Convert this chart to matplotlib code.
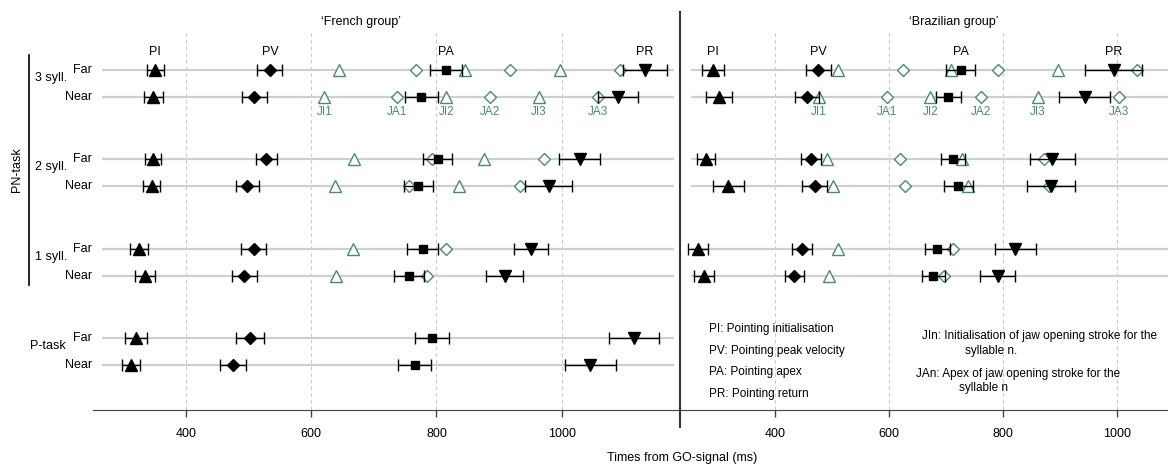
"""Timing of pointing and jaw events, French vs Brazilian groups."""

import matplotlib

matplotlib.use("Agg")
import matplotlib.pyplot as plt
from matplotlib.lines import Line2D

plt.rcParams["font.family"] = ["Liberation Sans", "DejaVu Sans"]

WIDTH, HEIGHT = 1168, 465
GREEN = "#4a8c6f"
GRID_TICKS = [400, 600, 800, 1000]

GROUPS = ["3 syll.", "2 syll.", "1 syll.", "P-task"]
CONDITIONS = ["Far", "Near"]
POINT_EVENTS = ["PI", "PV", "PA", "PR"]

# rows: 3 syll Far, 3 syll Near, 2 syll Far, 2 syll Near, 1 syll Far, 1 syll Near, P-task Far, P-task Near
FR_PI = [351, 348, 347, 345, 325, 334, 320, 312]
FR_PI_ERR = [14, 15, 13, 14, 15, 16, 17, 15]
FR_PV = [534, 509, 528, 498, 508, 493, 502, 475]
FR_PV_ERR = [20, 20, 17, 18, 20, 20, 22, 20]
FR_PA = [815, 776, 802, 771, 778, 756, 793, 765]
FR_PA_ERR = [25, 27, 23, 23, 25, 24, 27, 27]
FR_PR = [1133, 1090, 1029, 979, 951, 909, 1116, 1046]
FR_PR_ERR = [35, 32, 33, 37, 27, 30, 40, 41]
FR_JI = [[645, 845, 997], [621, 816, 964], [669, 876], [638, 836], [667], [640], [], []]
FR_JA = [[768, 918, 1093], [737, 886, 1058], [793, 972], [756, 933], [816], [785], [], []]

# Brazilian group has no P-task rows
BR_PI = [291, 301, 279, 318, 265, 275]
BR_PI_ERR = [19, 23, 16, 27, 17, 18]
BR_PV = [476, 456, 463, 470, 447, 434]
BR_PV_ERR = [22, 21, 17, 22, 18, 17]
BR_PA = [726, 704, 713, 722, 685, 678]
BR_PA_ERR = [26, 22, 21, 26, 22, 20]
BR_PR = [995, 944, 887, 885, 822, 791]
BR_PR_ERR = [50, 45, 39, 42, 36, 31]
BR_JI = [[510, 709, 896], [477, 673, 862], [491, 729], [501, 738], [511], [495]]
BR_JA = [[625, 792, 1036], [596, 761, 1004], [619, 873], [628, 881], [713], [697]]

LEGEND_LEFT = [
    "PI: Pointing initialisation",
    "PV: Pointing peak velocity",
    "PA: Pointing apex",
    "PR: Pointing return",
]


def row_y(i):
    # pixel row of each condition line (axes are set up in pixel units)
    group, cond = divmod(i, 2)
    return 70 + group * 89.3 + cond * 27


def fxy(x, y):
    return x / WIDTH, 1 - y / HEIGHT


def draw_panel(ax, points, errors, ji, ja, line_span):
    ax.set_ylim(410, 12)
    ax.vlines(GRID_TICKS, 33, 410, colors="#c8c8c8", linestyles=(0, (3, 3)),
              linewidth=0.8, zorder=0)
    n_rows = len(points[0])
    for i in range(n_rows):
        y = row_y(i)
        ax.hlines(y, *line_span, colors="#cfcfcf", linewidth=1.6, zorder=1)
        ax.plot(ji[i], [y] * len(ji[i]), "^", ms=9, mfc="white", mec=GREEN,
                mew=1.0, zorder=2)
        ax.plot(ja[i], [y] * len(ja[i]), "D", ms=6, mfc="white", mec=GREEN,
                mew=1.0, zorder=2)
        for values, errs, marker, size in zip(points, errors, ["^", "D", "s", "v"],
                                              [8, 6.5, 6, 8.5]):
            ax.errorbar(values[i], y, xerr=errs[i], fmt="none", ecolor="black",
                        elinewidth=1.0, capsize=4, capthick=1.0, zorder=3)
            ax.plot(values[i], y, marker, ms=size, color="black", zorder=4)

    # event headers above the first row, jaw labels below the second row
    for name, values in zip(POINT_EVENTS, points):
        ax.text(values[0], 52, name, ha="center", va="center", fontsize=9)
    for k, value in enumerate(ji[1]):
        ax.text(value, 112, f"JI{k + 1}", ha="center", va="center",
                fontsize=8.5, color=GREEN)
    for k, value in enumerate(ja[1]):
        ax.text(value, 112, f"JA{k + 1}", ha="center", va="center",
                fontsize=8.5, color=GREEN)

    for side in ("top", "left", "right"):
        ax.spines[side].set_visible(False)
    ax.spines["bottom"].set_color("#444444")
    ax.set_yticks([])
    ax.set_xticks(GRID_TICKS)
    ax.tick_params(axis="x", length=5, width=1, color="#444444", labelsize=9,
                   pad=8)


def main() -> None:
    fig = plt.figure(figsize=(WIDTH / 100, HEIGHT / 100), dpi=100)
    bottom, top = 1 - 410 / HEIGHT, 1 - 12 / HEIGHT
    ax_fr = fig.add_axes([93 / WIDTH, bottom, (680 - 93) / WIDTH, top - bottom])
    ax_br = fig.add_axes([680 / WIDTH, bottom, (WIDTH - 680) / WIDTH, top - bottom])
    ax_fr.set_xlim(251.4, 1189)
    ax_br.set_xlim(233.2, 1090)

    draw_panel(ax_fr, [FR_PI, FR_PV, FR_PA, FR_PR],
               [FR_PI_ERR, FR_PV_ERR, FR_PA_ERR, FR_PR_ERR], FR_JI, FR_JA,
               (266, 1179))
    draw_panel(ax_br, [BR_PI, BR_PV, BR_PA, BR_PR],
               [BR_PI_ERR, BR_PV_ERR, BR_PA_ERR, BR_PR_ERR], BR_JI, BR_JA,
               (252, 1090))

    fig.text(*fxy(361, 22), "\u2018French group\u2019", ha="center", va="center",
             fontsize=9)
    fig.text(*fxy(954, 22), "\u2018Brazilian group\u2019", ha="center",
             va="center", fontsize=9)

    # row labels
    for i in range(len(GROUPS) * len(CONDITIONS)):
        fig.text(*fxy(92, row_y(i)), CONDITIONS[i % 2], ha="right", va="center",
                 fontsize=9)
    for g, name in enumerate(GROUPS):
        x = 30 if name == "P-task" else 35
        fig.text(*fxy(x, row_y(2 * g) + 8), name, ha="left", va="center",
                 fontsize=9)
    fig.text(*fxy(17, 170), "PN-task", rotation=90, ha="center", va="center",
             fontsize=9)
    fig.add_artist(Line2D([29 / WIDTH] * 2, [1 - 55 / HEIGHT, 1 - 285 / HEIGHT],
                          color="black", linewidth=1.2))
    fig.add_artist(Line2D([680 / WIDTH] * 2, [1 - 12 / HEIGHT, 1 - 427 / HEIGHT],
                          color="#333333", linewidth=1.5))

    # legend texts
    for k, text in enumerate(LEGEND_LEFT):
        fig.text(*fxy(709, 329 + k * 21.7), text, ha="left", va="center",
                 fontsize=8.5)
    fig.text(*fxy(922, 336), "JIn: Initialisation of jaw opening stroke for the",
             ha="left", va="center", fontsize=8.5)
    fig.text(*fxy(965, 351), "syllable n.", ha="left", va="center", fontsize=8.5)
    fig.text(*fxy(916, 374), "JAn: Apex of jaw opening stroke for the",
             ha="left", va="center", fontsize=8.5)
    fig.text(*fxy(959, 388), "syllable n", ha="left", va="center", fontsize=8.5)

    fig.text(*fxy(682, 458), "Times from GO-signal (ms)", ha="center",
             va="center", fontsize=9)

    fig.savefig("out.png", dpi=100)


if __name__ == "__main__":
    main()
